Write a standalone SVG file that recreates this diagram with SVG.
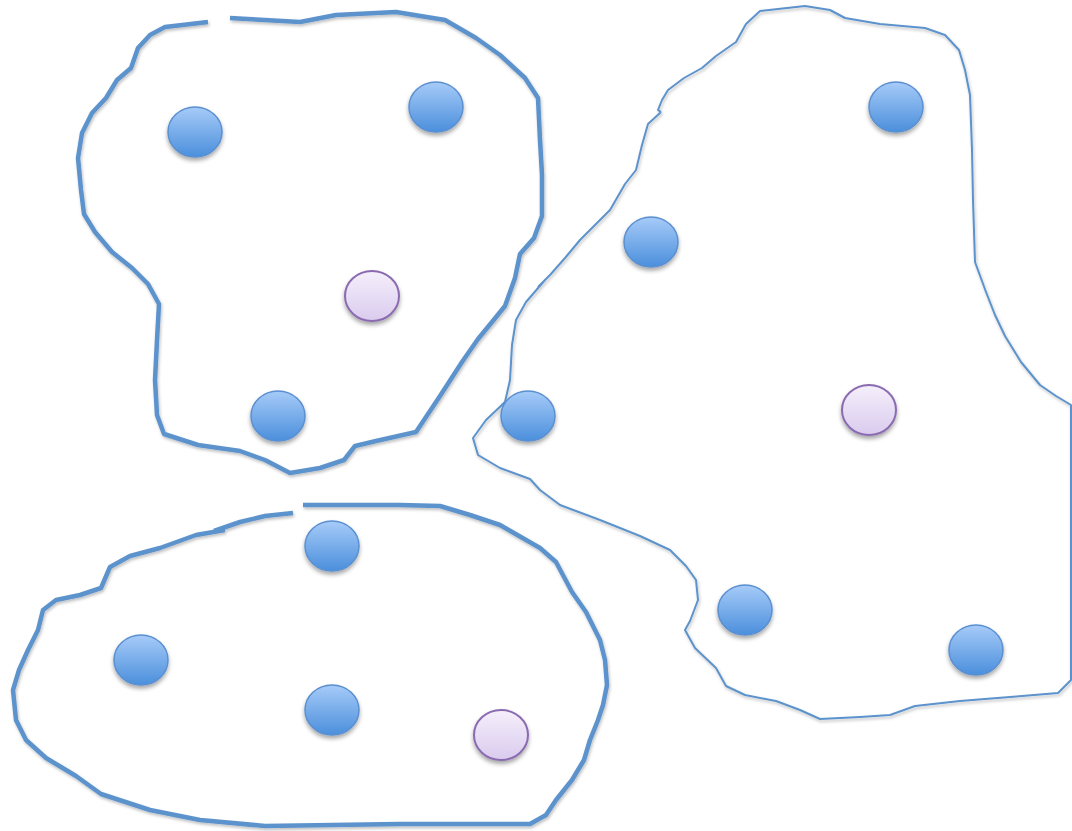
<svg xmlns="http://www.w3.org/2000/svg" width="1072" height="831" viewBox="0 0 1072 831">
<defs>
<linearGradient id="gb" x1="0" y1="0" x2="0" y2="1"><stop offset="0" stop-color="#a6cbf8"/><stop offset="1" stop-color="#4b8fdc"/></linearGradient>
<linearGradient id="gp" x1="0" y1="0" x2="0" y2="1"><stop offset="0" stop-color="#f5effb"/><stop offset="1" stop-color="#dacbee"/></linearGradient>
<filter id="sh" x="-30%" y="-30%" width="160%" height="170%"><feDropShadow dx="0" dy="3" stdDeviation="2.2" flood-color="#000" flood-opacity="0.35"/></filter>
<filter id="lsh" x="-5%" y="-5%" width="110%" height="110%"><feDropShadow dx="1" dy="2" stdDeviation="1.5" flood-color="#000" flood-opacity="0.25"/></filter>
</defs>
<style>
.b{fill:none;stroke:#5d93cc;stroke-linejoin:round;stroke-linecap:butt;filter:url(#lsh)}
.thick{stroke-width:4.5}
.thin{stroke-width:2}
.nb{fill:url(#gb);stroke:#5a8fd0;stroke-width:1.5;filter:url(#sh)}
.np{fill:url(#gp);stroke:#8a6bb0;stroke-width:2;filter:url(#sh)}
</style>
<rect width="1072" height="831" fill="#fff"/>
<g id="connectors">
<path class="b thick" d="M208,22 L165,27 L150,35 L138,48 L131,68 L117,80 L106,98 L92,113 L82,133 L78,158 L81,190 L84,214 L95,232 L112,252 L132,268 L148,284 L159,304 L157,340 L155,380 L157,415 L164,434 L198,445 L240,451 L265,460 L290,473 L320,468 L344,460 L355,446 L376,441 L416,432 L440,396 L462,362 L478,339 L492,322 L505,306 L515,278 L520,254 L534,238 L542,216 L542,175 L540,140 L538,98 L525,78 L500,55 L476,38 L445,20 L396,12 L336,15 L300,22 L230,18"/>
<path class="b thick" d="M293,513 L265,516 L240,522 L214,531 M225,530 L196,535 L160,548 L130,556 L110,567 L101,588 L80,595 L56,600 L43,610 L38,630 L28,650 L19,670 L13,690 L16,720 L26,740 L46,758 L76,776 L101,794 L150,810 L200,820 L265,826 L400,824 L530,824 L546,815 L556,800 L572,780 L584,760 L590,740 L598,720 L603,705 L607,685 L605,660 L600,640 L586,612 L572,592 L556,562 L540,548 L500,525 L470,515 L440,506 L400,505 L303,505"/>
<path class="b thin" d="M661,112 L648,124 L642,145 L636,170 L625,184 L610,210 L596,224 L580,240 L565,258 L550,275 L538,287 M545,280 L526,302 L516,320 L512,345 L510,380 L505,402 L486,420 L473,438 L478,455 L500,468 L530,479 L540,490 L560,505 L600,520 L640,536 L670,550 L686,566 L696,580 L698,600 L690,621 L685,630 L695,648 L716,668 L726,686 L745,695 L776,701 L800,710 L820,719 L860,717 L890,715 L915,706 L960,701 L1010,697 L1058,693 L1071,680 L1071,405 L1056,396 L1040,385 L1021,362 L1005,336 L995,315 L986,292 L975,262 L973,200 L972,150 L970,95 L965,70 L959,50 L945,35 L925,28 L880,24 L845,18 L830,10 L805,6 L760,11 L746,24 L736,42 L716,56 L702,68 L684,78 L668,90 L662,100 L658,110 L661,112"/>
</g>
<g id="n1"><ellipse class="nb" cx="195" cy="132" rx="27" ry="25"/></g>
<g id="n2"><ellipse class="nb" cx="436" cy="107" rx="27" ry="25"/></g>
<g id="n3"><ellipse class="np" cx="372" cy="296" rx="27" ry="25"/></g>
<g id="n4"><ellipse class="nb" cx="278" cy="416" rx="27" ry="25"/></g>
<g id="n5"><ellipse class="nb" cx="651" cy="242" rx="27" ry="25"/></g>
<g id="n6"><ellipse class="nb" cx="896" cy="107" rx="27" ry="25"/></g>
<g id="n7"><ellipse class="nb" cx="528" cy="416" rx="27" ry="25"/></g>
<g id="n8"><ellipse class="np" cx="869" cy="410" rx="27" ry="25"/></g>
<g id="n9"><ellipse class="nb" cx="745" cy="610" rx="27" ry="25"/></g>
<g id="n10"><ellipse class="nb" cx="976" cy="650" rx="27" ry="25"/></g>
<g id="n11"><ellipse class="nb" cx="332" cy="546" rx="27" ry="25"/></g>
<g id="n12"><ellipse class="nb" cx="141" cy="660" rx="27" ry="25"/></g>
<g id="n13"><ellipse class="nb" cx="332" cy="710" rx="27" ry="25"/></g>
<g id="n14"><ellipse class="np" cx="501" cy="735" rx="27" ry="25"/></g>
</svg>
